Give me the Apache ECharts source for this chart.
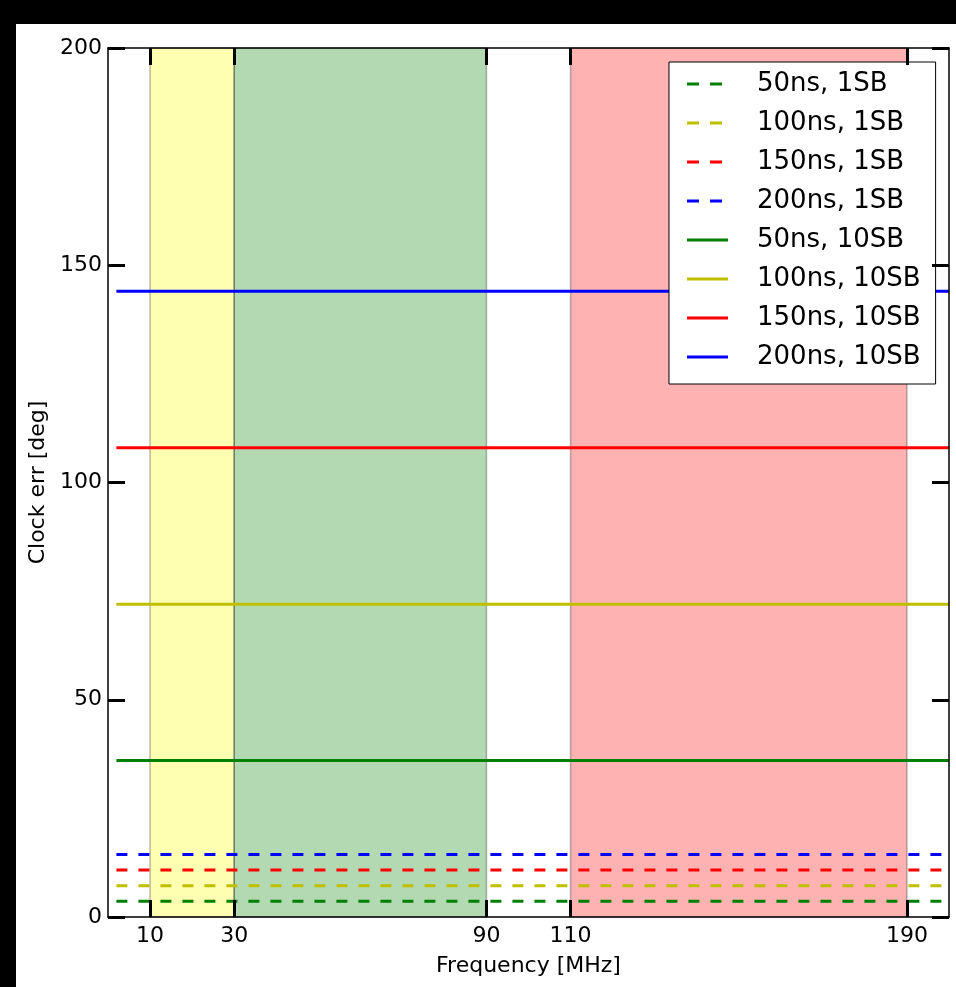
<!DOCTYPE html>
<html>
<head>
<meta charset="utf-8">
<script src="https://cdn.jsdelivr.net/npm/echarts@6/dist/echarts.min.js"></script>
<style>
  html, body { margin: 0; padding: 0; background: #000; }
  #chart { position: absolute; left: 16px; top: 24px; width: 940px; height: 963px; background: #fff; }
</style>
</head>
<body>
<div id="chart"></div>
<script>
// Clock error versus frequency for several clock offsets and subband counts
const freqRange = [2, 200];                       // MHz, span of every line
const delayLabels = ['50ns', '100ns', '150ns', '200ns'];
const lineColors = ['#008000', '#bfbf00', '#ff0000', '#0000ff'];
const clockErr1SB = [3.6, 7.2, 10.8, 14.4];       // deg
const clockErr10SB = [36, 72, 108, 144];          // deg
const xTicks = [10, 30, 90, 110, 190];
const yTicks = [0, 50, 100, 150, 200];
// Frequency bands shaded behind the curves
const bandEdges = [[10, 30], [30, 90], [110, 190]];
const bandColors = ['rgba(255,255,0,0.3)', 'rgba(0,128,0,0.3)', 'rgba(255,0,0,0.3)'];

const FONT = 'DejaVu Sans';
// legend handles: two short dashes, or one solid bar (trailing move keeps the box width)
const ICON_DASHED = 'path://M0,0h12v3h-12zM23,0h12v3h-12zM41,3';
const ICON_SOLID = 'path://M0,0h41v3h-41z';

const series = [];
// band shading
series.push({
  type: 'line',
  name: '__bands',
  data: [],
  silent: true,
  z: 1,
  markArea: {
    silent: true,
    data: bandEdges.map((b, i) => [
      { xAxis: b[0], itemStyle: { color: bandColors[i], borderColor: 'rgba(0,0,0,0.28)', borderWidth: 1.5 } },
      { xAxis: b[1] }
    ])
  }
});

const legendItems = [];
function addSet(values, suffix, dashed) {
  values.forEach((v, i) => {
    const name = delayLabels[i] + ', ' + suffix;
    legendItems.push({ name: name, icon: dashed ? ICON_DASHED : ICON_SOLID });
    series.push({
      type: 'line',
      name: name,
      data: freqRange.map(f => [f, v]),
      symbol: 'none',
      clip: true,
      z: 3,
      lineStyle: { color: lineColors[i], width: 3, type: dashed ? [11, 11] : 'solid' },
      itemStyle: { color: lineColors[i] },
      animation: false
    });
  });
}
addSet(clockErr1SB, '1SB', true);
addSet(clockErr10SB, '10SB', false);

const tickStyle = { show: true, inside: true, length: 17, lineStyle: { color: '#000', width: 3 } };
const lineAxis = { show: true, onZero: false, lineStyle: { color: '#000', width: 1.5 } };
const labelFont = { color: '#000', fontFamily: FONT, fontSize: 22 };

const chart = echarts.init(document.getElementById('chart'));
chart.setOption({
  animation: false,
  backgroundColor: '#fff',
  grid: { left: 92, top: 24, right: 7, bottom: 70, containLabel: false },
  legend: {
    data: legendItems,
    orient: 'vertical',
    left: 653,
    top: 38,
    padding: [7, 15, 12, 18],
    itemGap: 9,
    itemWidth: 41,
    itemHeight: 3,
    itemStyle: { borderWidth: 0 },
    backgroundColor: '#fff',
    borderColor: '#000',
    borderWidth: 1,
    borderRadius: 0,
    textStyle: { color: '#000', fontFamily: FONT, fontSize: 26, lineHeight: 30, padding: [0, 0, 0, 24] }
  },
  xAxis: [
    {
      type: 'value', min: 0, max: 200, position: 'bottom', z: 10,
      name: 'Frequency [MHz]', nameLocation: 'middle', nameGap: 38,
      nameTextStyle: labelFont,
      axisLine: lineAxis,
      axisTick: Object.assign({ customValues: xTicks }, tickStyle),
      axisLabel: Object.assign({ customValues: xTicks, margin: 8 }, labelFont),
      splitLine: { show: false }
    },
    {
      type: 'value', min: 0, max: 200, position: 'top', z: 10,
      axisLine: lineAxis,
      axisTick: Object.assign({ customValues: xTicks }, tickStyle),
      axisLabel: { show: false },
      splitLine: { show: false }
    }
  ],
  yAxis: [
    {
      type: 'value', min: 0, max: 200, interval: 50, position: 'left', z: 10,
      name: 'Clock err [deg]', nameLocation: 'middle', nameGap: 58,
      nameTextStyle: labelFont,
      axisLine: lineAxis,
      axisTick: Object.assign({ customValues: yTicks }, tickStyle),
      axisLabel: Object.assign({ customValues: yTicks, margin: 6 }, labelFont),
      splitLine: { show: false }
    },
    {
      type: 'value', min: 0, max: 200, interval: 50, position: 'right', z: 10,
      axisLine: lineAxis,
      axisTick: Object.assign({ customValues: yTicks }, tickStyle),
      axisLabel: { show: false },
      splitLine: { show: false }
    }
  ],
  series: series
});
</script>
</body>
</html>
